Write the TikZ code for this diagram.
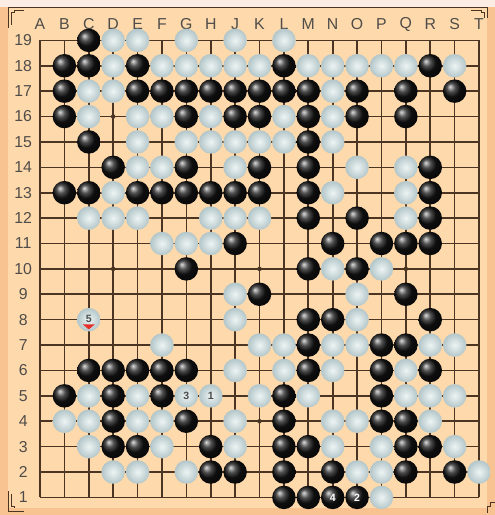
\documentclass[tikz,border=0pt]{standalone}
\usepackage{fontspec}
\setsansfont{Liberation Sans}
\usepackage{xcolor}
\definecolor{boardbg}{HTML}{FDD9AB}
\definecolor{boardedge}{HTML}{F8C390}
\definecolor{boardtop}{HTML}{FBEDE3}
\definecolor{lineclr}{HTML}{4B3522}
\definecolor{stonewin}{HTML}{EEF4F4}
\definecolor{stonewout}{HTML}{B3C6C9}
\definecolor{lblgray}{HTML}{4F4C49}
\definecolor{lastred}{HTML}{E5302A}

\begin{document}
\begin{tikzpicture}[
  x=0.4mm,y=0.4mm,
  ln/.style={draw=lineclr,line width=0.65mm},
  orn/.style={draw=lineclr,line width=0.35mm},
  st/.style={circle,inner sep=0pt,minimum size=9.4mm,font=\sffamily\bfseries\fontsize{12}{12}\selectfont},
  blk/.style={st,shading=ball,ball color=black!92,text=white},
  wht/.style={st,shading=radial,inner color=stonewin,outer color=stonewout,text=black!70},
  lbl/.style={font=\sffamily\fontsize{18}{18}\selectfont,text=lblgray,inner sep=0pt},
  hoshi/.style={circle,fill=lineclr,inner sep=0pt,minimum size=1.8mm}
]
% board
\fill[boardedge] (0,0) rectangle (495,515);
\fill[boardtop] (0,508) rectangle (495,515);
\fill[boardbg] (8,7) rectangle (487,508);
\useasboundingbox (0,0) rectangle (495,515);
\draw[orn] (8,487) -- (8,508) -- (487,508) -- (487,497);
\draw[orn] (11,490) -- (11,503) -- (14,503) -- (14,505) -- (24,505);
\draw[orn] (484,497) -- (484,503) -- (481,503) -- (481,505) -- (471,505);
\draw[orn] (8,24) -- (8,4) -- (24,4);
\draw[orn] (11,21) -- (11,9) -- (14,9) -- (14,7);
\draw[orn] (495,13) -- (490,13) -- (490,9) -- (487,9) -- (487,2);

\begin{scope}[shift={(6.244mm,-3.116mm)},x=9.756mm,y=10.156mm]
% grid
\foreach \i in {1,...,19} {
  \draw[ln] (\i,1) -- (\i,19);
  \draw[ln] (1,\i) -- (19,\i);
}
\foreach \c/\r in {4/4,4/10,4/16,10/4,10/10,10/16,16/4,16/10,16/16}
  \node[hoshi] (hs-\c-\r) at (\c,\r) {};
% coordinates
\foreach \l [count=\c] in {A,B,C,D,E,F,G,H,J,K,L,M,N,O,P,Q,R,S,T}
  \node[lbl] (col-\l) at (\c,19.64) {\l};
\foreach \r in {1,...,19}
  \node[lbl] (row-\r) at (0.31,\r) {\r};

% black stones
\foreach \c/\r in {3/19,
  2/18,3/18,5/18,11/18,17/18,
  2/17,5/17,6/17,7/17,8/17,9/17,10/17,11/17,12/17,14/17,16/17,18/17,
  2/16,7/16,9/16,10/16,12/16,14/16,16/16,
  3/15,12/15,
  4/14,7/14,10/14,12/14,17/14,
  2/13,3/13,5/13,6/13,7/13,8/13,9/13,10/13,12/13,17/13,
  12/12,14/12,17/12,
  9/11,13/11,15/11,16/11,17/11,
  7/10,12/10,14/10,
  10/9,16/9,
  12/8,13/8,17/8,
  12/7,15/7,16/7,
  3/6,4/6,5/6,6/6,7/6,12/6,15/6,17/6,
  2/5,4/5,6/5,11/5,15/5,
  4/4,7/4,11/4,15/4,16/4,
  4/3,5/3,8/3,11/3,12/3,16/3,17/3,
  8/2,9/2,11/2,13/2,16/2,18/2,
  11/1,12/1}
  \node[blk] (b-\c-\r) at (\c,\r) {};

% white stones
\foreach \c/\r in {4/19,5/19,7/19,9/19,11/19,
  4/18,6/18,7/18,8/18,9/18,10/18,12/18,13/18,14/18,15/18,16/18,18/18,
  3/17,4/17,13/17,
  3/16,5/16,6/16,8/16,11/16,13/16,
  5/15,7/15,8/15,9/15,10/15,11/15,13/15,
  5/14,6/14,9/14,14/14,16/14,
  4/13,13/13,16/13,
  3/12,4/12,5/12,8/12,9/12,10/12,16/12,
  6/11,7/11,8/11,
  13/10,15/10,
  9/9,14/9,
  9/8,14/8,
  6/7,10/7,11/7,13/7,14/7,17/7,18/7,
  9/6,11/6,13/6,16/6,
  3/5,5/5,10/5,12/5,16/5,17/5,18/5,
  2/4,3/4,5/4,6/4,9/4,13/4,14/4,17/4,
  3/3,6/3,9/3,13/3,15/3,18/3,
  4/2,5/2,7/2,14/2,15/2,19/2,
  15/1}
  \node[wht] (w-\c-\r) at (\c,\r) {};

% numbered moves
\node[wht] (mv1) at (8,5) {1};
\node[blk] (mv2) at (14,1) {2};
\node[wht] (mv3) at (7,5) {3};
\node[blk] (mv4) at (13,1) {4};
\node[wht] (mv5) at (3,8) {\raisebox{0.7mm}{5}};
\fill[lastred] ([shift={(-2.4mm,-1.9mm)}]mv5.center) -- ([shift={(2.4mm,-1.9mm)}]mv5.center)
  -- ([shift={(0mm,-3.9mm)}]mv5.center) -- cycle;
\end{scope}
\end{tikzpicture}
\end{document}
